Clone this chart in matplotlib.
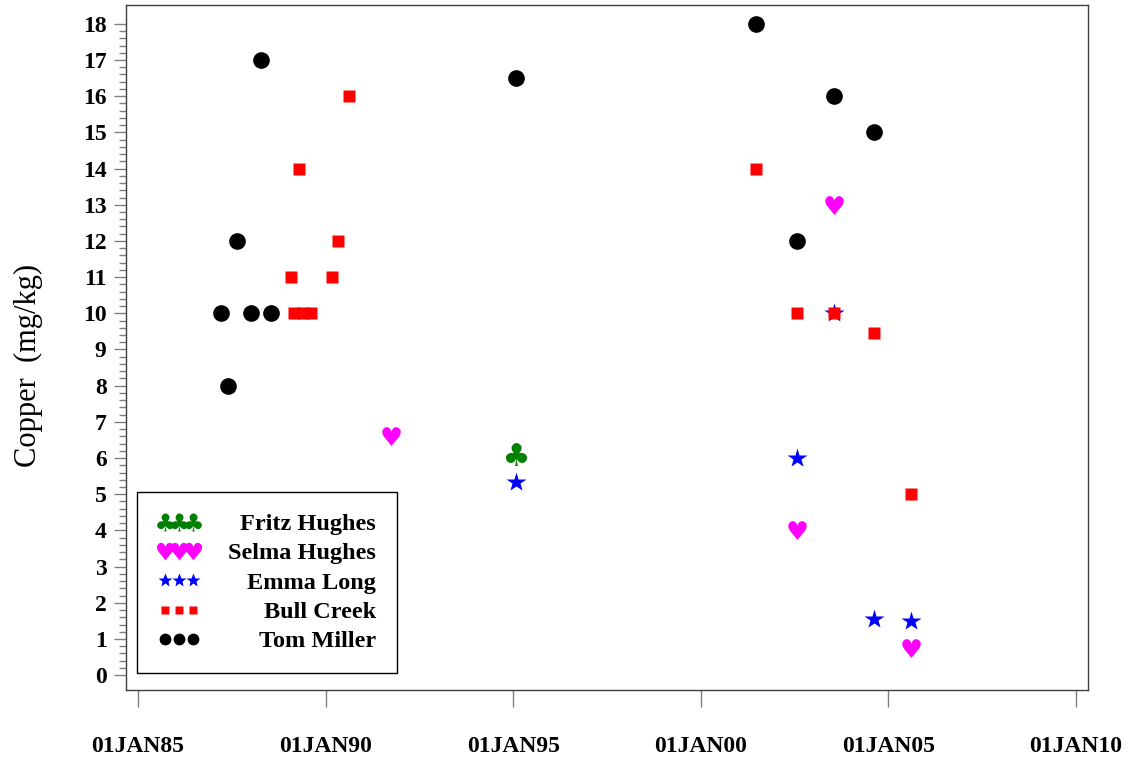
import matplotlib
matplotlib.use("Agg")
import matplotlib.pyplot as plt
from matplotlib.lines import Line2D
import pandas as pd

plt.rcParams['font.family'] = ['Liberation Serif', 'DejaVu Serif']
plt.rcParams['mathtext.fontset'] = 'dejavusans'

# --- data ---
fritz_dates = ['1995-01-26']
fritz_cu = [6.1]

selma_dates = ['1991-09-27', '2002-07-24', '2003-07-19', '2005-08-08']
selma_cu = [6.6, 4.0, 13.0, 0.75]

emma_dates = ['1995-01-26', '2002-07-24', '2003-07-19', '2004-08-14', '2005-08-08']
emma_cu = [5.35, 6.0, 10.0, 1.55, 1.5]

bull_dates = ['1989-01-30', '1989-02-28', '1989-04-16', '1989-05-26', '1989-08-11',
              '1990-03-03', '1990-05-01', '1990-08-14', '2001-06-20', '2002-07-24',
              '2003-07-19', '2004-08-14', '2005-08-08']
bull_cu = [11, 10, 14, 10, 10, 11, 12, 16, 14, 10, 10, 9.45, 5]

tom_dates = ['1987-03-17', '1987-05-26', '1987-08-22', '1988-01-05', '1988-04-13',
             '1988-07-16', '1995-01-26', '2001-06-20', '2002-07-24', '2003-07-19',
             '2004-08-14']
tom_cu = [10, 8, 12, 10, 17, 10, 16.5, 18, 12, 16, 15]

tick_years = [1985, 1990, 1995, 2000, 2005, 2010]

fig = plt.figure(figsize=(11.28, 7.57), dpi=100)
ax = fig.add_axes([0.1117, 0.0885, 0.8528, 0.9049])

# name, dates, values, marker, colour, size on plot, size in legend
series = [
    ('Fritz Hughes', fritz_dates, fritz_cu, '$\u2663$', 'green', 16.5, 13),
    ('Selma Hughes', selma_dates, selma_cu, '$\u2665$', 'magenta', 13.5, 12.5),
    ('Emma Long', emma_dates, emma_cu, '*', 'blue', 14.5, 10.5),
    ('Bull Creek', bull_dates, bull_cu, 's', 'red', 8.5, 6),
    ('Tom Miller', tom_dates, tom_cu, 'o', 'black', 12, 8.5),
]
handles = []
for name, d, v, mk, col, ms, lms in series:
    ax.plot(pd.to_datetime(d), v, ls='none', marker=mk, color=col, mec='none', ms=ms)
    handles.append(Line2D([], [], ls='none', marker=mk, color=col, mec='none', ms=lms, label=name))

ax.set_xlim(pd.Timestamp('1984-09-05'), pd.Timestamp('2010-04-27'))
ax.set_ylim(-0.41, 18.52)

tick_pos = [pd.Timestamp(f'{y}-01-01') for y in tick_years]
ax.set_xticks(tick_pos)
ax.set_xticklabels([t.strftime('%d%b%y').upper() for t in tick_pos])

ax.set_yticks(range(0, 19))
ax.set_yticks([i / 5 for i in range(0, 91)], minor=True)
ax.tick_params(axis='x', length=12, width=1, color='#808080', pad=21, labelsize=17)
ax.tick_params(axis='y', which='major', length=9, width=1, color='#808080', pad=5, labelsize=17)
ax.tick_params(axis='y', which='minor', length=5, width=1, color='#808080')
for lab in ax.get_xticklabels() + ax.get_yticklabels():
    lab.set_fontweight('bold')
for sp in ax.spines.values():
    sp.set_color('#404040')
    sp.set_linewidth(1)

ax.set_ylabel('Copper  (mg/kg)', fontsize=22)
ax.yaxis.set_label_coords(-0.086, 0.474)

leg = ax.legend(handles=handles, numpoints=3, loc='lower left',
                bbox_to_anchor=(0.0114, 0.0248), borderaxespad=0,
                fancybox=False, edgecolor='black', framealpha=1,
                prop=dict(size=17.5, weight='bold'), handlelength=1.75,
                handletextpad=1.15, labelspacing=0.3, borderpad=0.85)
leg.get_frame().set_linewidth(1)
fig.canvas.draw()
r = fig.canvas.get_renderer()
texts = leg.get_texts()
widths = [t.get_window_extent(r).width for t in texts]
w = max(widths)
for t, wi in zip(texts, widths):
    t.set_position((w - wi, 0))

fig.savefig('out.png', dpi=100)
